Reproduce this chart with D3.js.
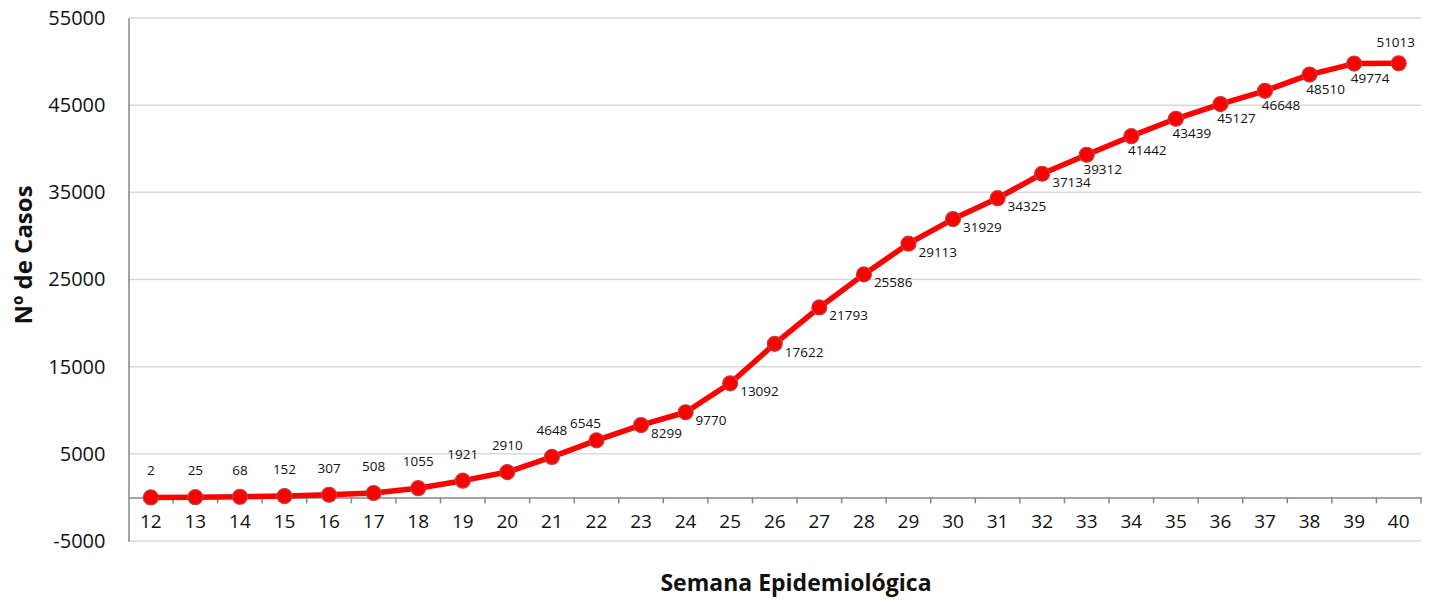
<!DOCTYPE html>
<html>
<head>
<meta charset="utf-8">
<script src="https://cdn.jsdelivr.net/npm/d3@7"></script>
<style>
  body { margin: 0; background: #fff; }
  text { font-family: "Open Sans", "Noto Sans", sans-serif; fill: #111; }
</style>
</head>
<body>
<div id="chart-container"></div>
<script>
// semana epidemiológica
const weeks = ['12','13','14','15','16','17','18','19','20','21','22','23','24','25','26','27','28','29','30','31','32','33','34','35','36','37','38','39','40'];
// casos acumulados (as plotted)
const cases = [2, 25, 68, 152, 307, 508, 1055, 1921, 2910, 4648, 6545, 8299, 9770, 13092, 17622, 21793, 25586, 29113, 31929, 34325, 37134, 39312, 41442, 43439, 45127, 46648, 48510, 49774, 49800];
// text shown on each point (the last label differs from the plotted height)
const caseLabels = ['2','25','68','152','307','508','1055','1921','2910','4648','6545','8299','9770','13092','17622','21793','25586','29113','31929','34325','37134','39312','41442','43439','45127','46648','48510','49774','51013'];
const yTicks = [-5000, 5000, 15000, 25000, 35000, 45000, 55000];

const W = 1434, H = 601;
const svg = d3.select('#chart-container').append('svg')
  .attr('width', W).attr('height', H);

const left = 128.5, right = 1421;
const x = d3.scaleBand().domain(weeks).range([left, right]).padding(0);
const y = d3.scaleLinear().domain([-5000, 55000]).range([541, 18]);
const cx = d => x(d) + x.bandwidth() / 2;

// gridlines
svg.append('g')
  .selectAll('line')
  .data(yTicks)
  .enter().append('line')
  .attr('x1', left).attr('x2', right)
  .attr('y1', d => y(d)).attr('y2', d => y(d))
  .attr('stroke', '#d9d9d9').attr('stroke-width', 1.5);

// y axis
const yAxis = svg.append('g')
  .attr('transform', 'translate(' + left + ',0)')
  .call(d3.axisLeft(y).tickValues(yTicks).tickSize(0).tickPadding(23).tickFormat(d => String(d)));
yAxis.select('.domain').attr('stroke', '#868686').attr('stroke-width', 1.5);
yAxis.selectAll('text')
  .style('font-family', '"Open Sans", sans-serif')
  .style('font-size', '20px').attr('fill', '#111');

// x axis at zero
const xAxis = svg.append('g')
  .attr('transform', 'translate(0,' + y(0) + ')')
  .call(d3.axisBottom(x).tickSize(0).tickPadding(17));
xAxis.select('.domain').attr('stroke', '#868686').attr('stroke-width', 1.5);
xAxis.selectAll('text')
  .style('font-family', '"Open Sans", sans-serif')
  .style('font-size', '19px').attr('fill', '#111');

// tick marks between categories
const bounds = weeks.map(w => x(w)).concat([right]);
svg.append('g')
  .selectAll('line')
  .data(bounds.slice(1))
  .enter().append('line')
  .attr('x1', d => d).attr('x2', d => d)
  .attr('y1', y(0)).attr('y2', y(0) + 6)
  .attr('stroke', '#868686').attr('stroke-width', 1.5);

// line
const line = d3.line()
  .x((d, i) => cx(weeks[i]))
  .y(d => y(d));

svg.append('path')
  .datum(cases)
  .attr('d', line)
  .attr('fill', 'none')
  .attr('stroke', '#ff0000')
  .attr('stroke-width', 5.5)
  .attr('stroke-linejoin', 'round');

svg.append('g')
  .selectAll('circle')
  .data(cases)
  .enter().append('circle')
  .attr('cx', (d, i) => cx(weeks[i]))
  .attr('cy', d => y(d))
  .attr('r', 7.5)
  .attr('fill', '#ff0000')
  .attr('stroke', '#b8453f')
  .attr('stroke-width', 1.2);

// label placement, roughly as the original chart put them
function placement(i) {
  if (i <= 9) return { anchor: 'middle', dx: 0, dy: -27 };
  if (i === 10) return { anchor: 'middle', dx: -11, dy: -17 };
  if (i <= 20) return { anchor: 'start', dx: 10, dy: 8 };
  if (i <= 27) return { anchor: 'middle', dx: 16, dy: 14 };
  return { anchor: 'middle', dx: -3, dy: -21 };
}

svg.append('g')
  .selectAll('text')
  .data(cases)
  .enter().append('text')
  .attr('x', (d, i) => cx(weeks[i]) + placement(i).dx)
  .attr('y', (d, i) => y(d) + placement(i).dy)
  .attr('text-anchor', (d, i) => placement(i).anchor)
  .attr('dominant-baseline', 'central')
  .style('font-size', '13.5px')
  .text((d, i) => caseLabels[i]);

// axis titles
svg.append('text')
  .attr('x', 796).attr('y', 591)
  .attr('text-anchor', 'middle')
  .style('font-size', '23px').style('font-weight', 'bold')
  .text('Semana Epidemiológica');

svg.append('text')
  .attr('transform', 'translate(22,255) rotate(-90)')
  .attr('text-anchor', 'middle')
  .attr('dominant-baseline', 'central')
  .style('font-size', '24px').style('font-weight', 'bold')
  .text('Nº de Casos');
</script>
</body>
</html>
